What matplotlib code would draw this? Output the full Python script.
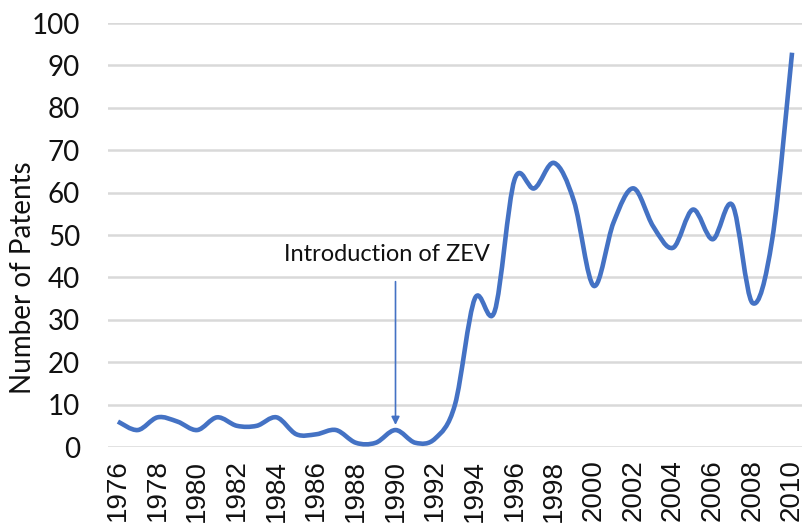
import matplotlib
matplotlib.use("Agg")
import matplotlib.pyplot as plt
import numpy as np
from matplotlib.path import Path
from matplotlib.patches import PathPatch

years = list(range(1976, 2011))
patents = [6, 4, 7, 6, 4, 7, 5, 5, 7, 3,
           3, 4, 1, 1, 4, 1, 2, 10, 35, 32,
           63, 61, 67, 58, 38, 53, 61, 52, 47, 56,
           49, 57, 34, 49, 93]
y_ticks = [0, 10, 20, 30, 40, 50, 60, 70, 80, 90, 100]
x_labels = [str(y) for y in range(1976, 2011, 2)]
annotation_text = "Introduction of ZEV"
annotation_year = 1990
ylabel = "Number of Patents"

BLUE = "#4472C4"

fig = plt.figure(figsize=(8.06, 5.29), dpi=100)
ax = fig.add_axes([0.134, 0.155, 0.861, 0.8015])

# Smoothed line (Excel-style Bezier through the data points)
x = np.array(years, dtype=float)
y = np.array(patents, dtype=float)
verts = [(x[0], y[0])]
codes = [Path.MOVETO]
n = len(x)
for i in range(n - 1):
    p0 = np.array([x[max(i - 1, 0)], y[max(i - 1, 0)]])
    p1 = np.array([x[i], y[i]])
    p2 = np.array([x[i + 1], y[i + 1]])
    p3 = np.array([x[min(i + 2, n - 1)], y[min(i + 2, n - 1)]])
    c1 = p1 + (p2 - p0) / 6.0
    c2 = p2 - (p3 - p1) / 6.0
    verts += [tuple(c1), tuple(c2), tuple(p2)]
    codes += [Path.CURVE4, Path.CURVE4, Path.CURVE4]
patch = PathPatch(Path(verts, codes), fill=False, edgecolor=BLUE, lw=3.3,
                  capstyle="butt", joinstyle="round", zorder=3)
ax.add_patch(patch)

ax.set_xlim(1975.5, 2010.5)
ax.set_ylim(0, 100)
ax.set_yticks(y_ticks)
ax.set_yticklabels([str(t) for t in y_ticks], fontsize=20, family="Lato",
                   color="#111111")
ax.set_xticks(list(range(1976, 2011, 2)))
ax.set_xticklabels(x_labels, rotation=90, fontsize=20, family="Liberation Sans",
                   color="#111111")
ax.tick_params(axis="both", length=0)
ax.tick_params(axis="y", pad=20)
ax.tick_params(axis="x", pad=9)
ax.grid(axis="y", color="#D9D9D9", lw=1.8, zorder=0)
for s in ax.spines.values():
    s.set_visible(False)
ax.set_ylabel(ylabel, fontsize=20, family="Lato", color="#111111",
              va="center", ha="center")
ax.yaxis.set_label_coords(-0.123, 0.40)

ax.annotate("", xy=(annotation_year, 5.2), xytext=(annotation_year, 39.0),
            arrowprops=dict(arrowstyle="-|>", color=BLUE, lw=1.2,
                            mutation_scale=12, shrinkA=0, shrinkB=0), zorder=4)
ax.text(annotation_year - 0.45, 45.5, annotation_text, fontsize=17,
        family="Lato", ha="center", va="center", color="#111111")

fig.savefig("out.png", dpi=100)
